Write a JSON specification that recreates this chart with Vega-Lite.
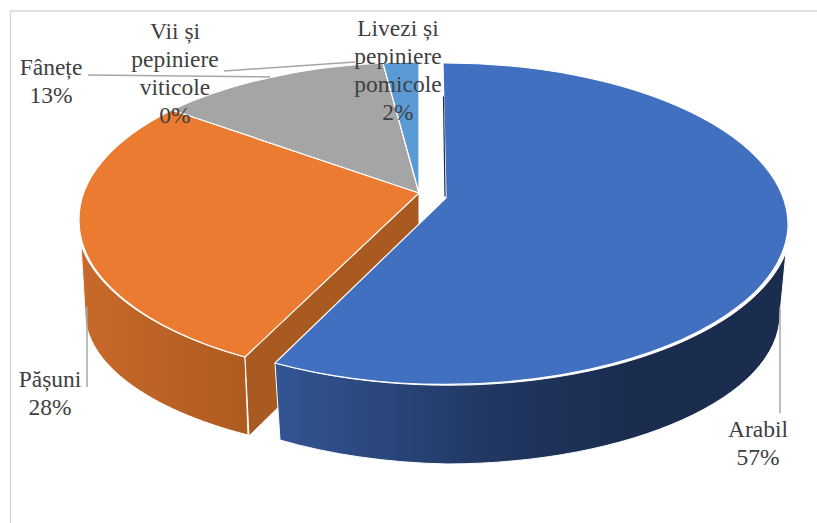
{
"$schema":"https://vega.github.io/schema/vega-lite/v6.json",
"width":817,"height":523,"padding":0,
"autosize":"none",
"background":"white",
"view":{"stroke":null},
"config":{"legend":{"disable":true}},
"resolve":{"scale":{"shape":"independent","color":"independent"}},
"data":{"values":[
{"category":"Arabil","share":57,"label":"Arabil\n57%"},
{"category":"Pășuni","share":28,"label":"Pășuni\n28%"},
{"category":"Fânețe","share":13,"label":"Fânețe\n13%"},
{"category":"Vii și pepiniere viticole","share":0,"label":"Vii și\npepiniere\nviticole\n0%"},
{"category":"Livezi și pepiniere pomicole","share":2,"label":"Livezi și\npepiniere\npomicole\n2%"}
]},
"layer":[
{"data":{"values":[{"element":"frame"}]},
 "mark":{"type":"point","filled":false,"opacity":1,"size":4,"stroke":"#d9d9d9","strokeWidth":1.5,"shape":"M408.5,-250.5L-398,-250.5L-398,261.5"}},
{"transform":[{"filter":"datum.category==='Pășuni'"}],
 "mark":{"type":"point","filled":true,"opacity":1,"size":4,"stroke":"white","strokeWidth":1,"fill":{"gradient":"linear","x1":0,"y1":0,"x2":1,"y2":0,"stops":[{"offset":0,"color":"#c8692b"},{"offset":1,"color":"#ae5b20"}]},"shape":"M-327.5,-16.5A341 159 0 0 0 -163.5,95.5L-160.5,173.5A335 143 0 0 1 -323.5,50.5Z"}},
{"transform":[{"filter":"datum.category==='Pășuni'"}],
 "mark":{"type":"point","filled":true,"opacity":1,"size":4,"stroke":"white","strokeWidth":1,"fill":"#a85a20","shape":"M-163.5,95.5L10.5,-68.5L10.5,8.5L-159.5,174.5Z"}},
{"transform":[{"filter":"datum.category!=='Arabil' && datum.share>0"}],
 "mark":{"type":"point","filled":true,"opacity":1,"size":4,"stroke":"white","strokeWidth":1.2},
 "encoding":{
  "shape":{"field":"category","type":"nominal","legend":null,"scale":{"domain":["Pășuni","Fânețe","Livezi și pepiniere pomicole"],"range":["M10.5,-68.5L-163.5,95.5A341 159 0 0 1 -329.5,-40.5A341 159 0 0 1 -236.5,-151.5Z","M10.5,-68.5L-236.5,-151.5A341 159 0 0 1 -25.5,-198.5Z","M10.5,-68.5L-25.5,-198.5A341 159 0 0 1 10.5,-199.5Z"]}},
  "color":{"field":"category","type":"nominal","legend":null,"scale":{"domain":["Pășuni","Fânețe","Livezi și pepiniere pomicole"],"range":["#ea7b30","#a5a5a5","#5b9bd5"]}}
 }},
{"transform":[{"filter":"datum.category==='Arabil'"}],
 "mark":{"type":"point","filled":true,"opacity":1,"size":4,"stroke":"white","strokeWidth":1,"fill":{"gradient":"linear","x1":0,"y1":0,"x2":1,"y2":0,"stops":[{"offset":0,"color":"#335594"},{"offset":0.45,"color":"#20355f"},{"offset":0.7,"color":"#1a2d4f"},{"offset":1,"color":"#1a2d4f"}]},"shape":"M-133.5,101.5A343 162 0 0 0 377.5,-9.5L371.5,52.5A335 150 0 0 1 38.5,202.5A335 150 0 0 1 -128.5,178.5Z"}},
{"transform":[{"filter":"datum.category==='Arabil'"}],
 "mark":{"type":"point","filled":true,"opacity":1,"size":4,"stroke":"white","strokeWidth":1.2,"fill":"#4270c1","shape":"M34.5,-198.5L37.5,-63.5L-133.5,101.5A343 162 0 0 0 379.5,-33.5A343 162 0 0 0 34.5,-198.5Z"}},
{"transform":[{"filter":"datum.category==='Arabil'"}],
 "mark":{"type":"point","filled":false,"opacity":1,"size":4,"stroke":"#1a2d4f","strokeWidth":1.2,"shape":"M35,-165L36.5,-65"}},
{"transform":[{"filter":"datum.category!=='Livezi și pepiniere pomicole'"}],
 "mark":{"type":"point","filled":false,"opacity":1,"size":4,"stroke":"#a6a6a6","strokeWidth":1.5},
 "encoding":{
  "shape":{"field":"category","type":"nominal","legend":null,"scale":{"domain":["Arabil","Pășuni","Fânețe","Vii și pepiniere viticole"],"range":["M371.5,45.5L371.5,151.5","M-321.5,45.5L-321.5,125.5","M-320.5,-186.5L-138.5,-184.5","M-184.5,-190.5L-53.5,-199.5"]}}
 }},
{"transform":[{"filter":"datum.category==='Arabil'"}],"mark":{"type":"text","font":"'Liberation Serif', serif","fontSize":23.5,"lineHeight":28,"lineBreak":"\n","color":"#404040","align":"center","baseline":"middle","dx":349.5,"dy":168},"encoding":{"text":{"field":"label"}}},
{"transform":[{"filter":"datum.category==='Pășuni'"}],"mark":{"type":"text","font":"'Liberation Serif', serif","fontSize":23.5,"lineHeight":28,"lineBreak":"\n","color":"#404040","align":"center","baseline":"middle","dx":-358.5,"dy":118.5},"encoding":{"text":{"field":"label"}}},
{"transform":[{"filter":"datum.category==='Fânețe'"}],"mark":{"type":"text","font":"'Liberation Serif', serif","fontSize":23.5,"lineHeight":28,"lineBreak":"\n","color":"#404040","align":"center","baseline":"middle","dx":-357.5,"dy":-193.5},"encoding":{"text":{"field":"label"}}},
{"transform":[{"filter":"datum.share===0"}],"mark":{"type":"text","font":"'Liberation Serif', serif","fontSize":23.5,"lineHeight":28,"lineBreak":"\n","color":"#404040","align":"center","baseline":"middle","dx":-233.5,"dy":-229.5},"encoding":{"text":{"field":"label"}}},
{"transform":[{"filter":"datum.category==='Livezi și pepiniere pomicole'"}],"mark":{"type":"text","font":"'Liberation Serif', serif","fontSize":23.5,"lineHeight":28,"lineBreak":"\n","color":"#404040","align":"center","baseline":"middle","dx":-10.5,"dy":-232.5},"encoding":{"text":{"field":"label"}}}
]
}
